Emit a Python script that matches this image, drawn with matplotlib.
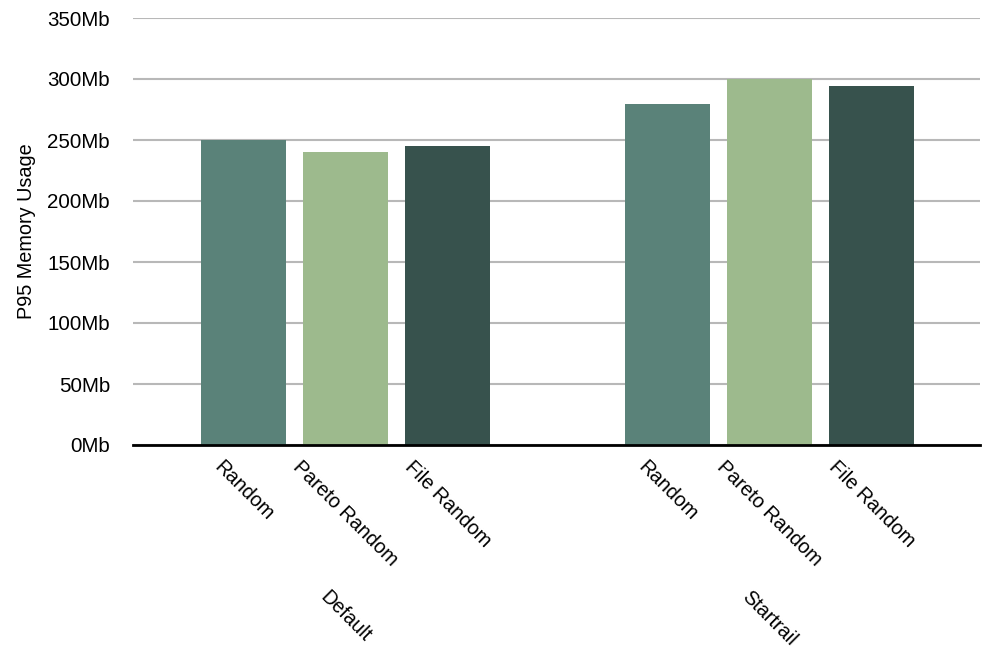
import matplotlib.pyplot as plt
import numpy as np

plt.rcParams['font.family'] = ['Liberation Sans', 'DejaVu Sans']

groups = ['Default', 'Startrail']
series = ['Random', 'Pareto Random', 'File Random']
values = {
    'Default': [250, 240, 245],
    'Startrail': [279.5, 300, 294.5],
}
colors = ['#5a8279', '#9dba8d', '#37524d']
y_ticks = [0, 50, 100, 150, 200, 250, 300, 350]
y_tick_labels = ['%dMb' % v for v in y_ticks]

fs = 14.8

fig = plt.figure(figsize=(10.02, 6.56), dpi=100)
ax = fig.add_axes([133 / 1002, 1 - 445 / 656, 847 / 1002, 427 / 656])

group_gap = 2.157
bar_width = 0.833
for g, group in enumerate(groups):
    x = np.arange(len(series)) + g * (len(series) - 1 + group_gap)
    ax.bar(x, values[group], width=bar_width, color=colors, zorder=2)
    for xi, name in zip(x, series):
        ax.text(xi, -10, name, rotation=-45, ha='center', va='top',
                fontsize=14.3)
    ax.text(x.mean(), -117, group, rotation=-45, ha='center', va='top',
            fontsize=14.3)

ax.set_xlim(-1.083, 7.22)
ax.set_ylim(0, 350)
ax.set_yticks(y_ticks)
ax.set_yticklabels(y_tick_labels, fontsize=fs)
ax.set_xticks([])
ax.tick_params(axis='y', length=0, pad=16.5)
ax.grid(axis='y', color='#b8b8b8', linewidth=1.5, zorder=0)
for s in ['top', 'right', 'left']:
    ax.spines[s].set_visible(False)
ax.spines['bottom'].set_linewidth(2)
ax.spines['bottom'].set_color('black')
ax.spines['bottom'].set_zorder(3)
ax.set_ylabel('P95 Memory Usage', fontsize=14.3, labelpad=8)

fig.savefig('out.png', dpi=100)
